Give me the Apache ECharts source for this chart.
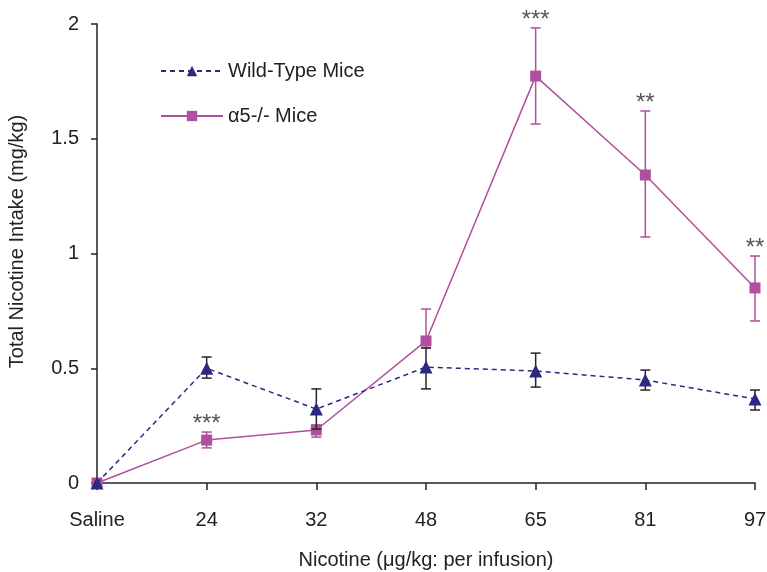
<!DOCTYPE html>
<html>
<head>
<meta charset="utf-8">
<script src="https://cdn.jsdelivr.net/npm/echarts@6/dist/echarts.min.js"></script>
<style>
  html, body { margin: 0; padding: 0; background: #fff; }
  #main { width: 767px; height: 572px; }
</style>
</head>
<body>
<div id="main"></div>
<script>
// dose categories on the x axis
var categories = ['Saline', '24', '32', '48', '65', '81', '97'];

// wild-type mice (mean and error bar ends)
var wildType = [0, 0.50, 0.322, 0.505, 0.488, 0.449, 0.366];
var wildTypeLow = [0, 0.457, 0.235, 0.41, 0.418, 0.405, 0.318];
var wildTypeHigh = [0, 0.549, 0.41, 0.588, 0.566, 0.492, 0.405];

// alpha5 knockout mice
var knockout = [0, 0.187, 0.231, 0.619, 1.773, 1.342, 0.85];
var knockoutLow = [0, 0.153, 0.2, 0.59, 1.564, 1.072, 0.706];
var knockoutHigh = [0, 0.222, 0.253, 0.758, 1.983, 1.621, 0.989];

// significance marks above the knockout bars
var stars = ['', '***', '', '', '***', '**', '**'];

var yTicks = [0, 0.5, 1, 1.5, 2];

var NAVY = '#2b2a80';
var MAGENTA = '#b04f9e';
var FONT = 'Liberation Sans';

function errorData(low, high) {
  var out = [];
  for (var i = 0; i < low.length; i++) {
    if (high[i] > low[i]) out.push([i, low[i], high[i]]);
  }
  return out;
}

function errorSeries(name, low, high, color, z) {
  return {
    type: 'custom',
    name: name + ' err',
    z: z,
    silent: true,
    data: errorData(low, high),
    renderItem: function (params, api) {
      var lo = api.coord([api.value(0), api.value(1)]);
      var hi = api.coord([api.value(0), api.value(2)]);
      var w = 5;
      var style = { stroke: color, lineWidth: 1.5 };
      return {
        type: 'group',
        children: [
          { type: 'line', shape: { x1: hi[0], y1: hi[1], x2: lo[0], y2: lo[1] }, style: style },
          { type: 'line', shape: { x1: hi[0] - w, y1: hi[1], x2: hi[0] + w, y2: hi[1] }, style: style },
          { type: 'line', shape: { x1: lo[0] - w, y1: lo[1], x2: lo[0] + w, y2: lo[1] }, style: style }
        ]
      };
    }
  };
}

var starData = [];
for (var i = 0; i < stars.length; i++) {
  if (stars[i]) starData.push([i, knockoutHigh[i], stars[i]]);
}

var myChart = echarts.init(document.getElementById('main'));

var option = {
  backgroundColor: '#fff',
  animation: false,
  textStyle: { fontFamily: FONT },
  grid: { left: 97, right: 12, top: 24, bottom: 89, outerBoundsMode: 'none', containLabel: false },
  legend: {
    left: 160,
    top: 61,
    padding: 0,
    orient: 'vertical',
    itemWidth: 62,
    itemHeight: 13,
    itemGap: 25,
    textStyle: { fontSize: 20, color: '#222', fontFamily: FONT },
    data: ['Wild-Type Mice', 'α5-/- Mice']
  },
  xAxis: {
    type: 'category',
    data: categories,
    boundaryGap: false,
    name: 'Nicotine (μg/kg: per infusion)',
    nameLocation: 'middle',
    nameGap: 67,
    nameTextStyle: { fontSize: 20, color: '#222' },
    axisLine: { lineStyle: { color: '#222', width: 1.5 } },
    axisTick: { alignWithLabel: true, length: 7, lineStyle: { color: '#222', width: 1.5 } },
    axisLabel: { fontSize: 20, color: '#222', margin: 27 },
    splitLine: { show: false }
  },
  yAxis: {
    type: 'value',
    min: yTicks[0],
    max: yTicks[yTicks.length - 1],
    interval: 0.5,
    name: 'Total Nicotine Intake (mg/kg)',
    nameLocation: 'middle',
    nameGap: 70,
    nameTextStyle: { fontSize: 20, color: '#222', padding: [0, 0, 0, 24] },
    axisLine: { show: true, lineStyle: { color: '#222', width: 1.5 } },
    axisTick: { show: true, length: 6, lineStyle: { color: '#222', width: 1.5 } },
    axisLabel: { fontSize: 20, color: '#222', margin: 18 },
    splitLine: { show: false }
  },
  series: [
    {
      name: 'α5-/- Mice',
      type: 'line',
      data: knockout,
      z: 3,
      symbol: 'rect',
      symbolSize: 11,
      lineStyle: { color: MAGENTA, width: 1.5 },
      itemStyle: { color: MAGENTA }
    },
    errorSeries('α5-/- Mice', knockoutLow, knockoutHigh, MAGENTA, 2),
    {
      name: 'Wild-Type Mice',
      type: 'line',
      data: wildType,
      z: 5,
      symbol: 'triangle',
      symbolSize: 13,
      lineStyle: { color: NAVY, width: 1.5, type: [5, 4] },
      itemStyle: { color: NAVY }
    },
    errorSeries('Wild-Type Mice', wildTypeLow, wildTypeHigh, '#2a2228', 4),
    {
      type: 'custom',
      name: 'stars',
      silent: true,
      z: 6,
      data: starData,
      renderItem: function (params, api) {
        var p = api.coord([api.value(0), api.value(1)]);
        return {
          type: 'text',
          style: {
            x: p[0],
            y: p[1] + 4,
            text: starData[params.dataIndex][2],
            fill: '#555',
            font: '24px ' + FONT,
            textAlign: 'center',
            textVerticalAlign: 'bottom'
          }
        };
      }
    }
  ]
};

myChart.setOption(option);
</script>
</body>
</html>
